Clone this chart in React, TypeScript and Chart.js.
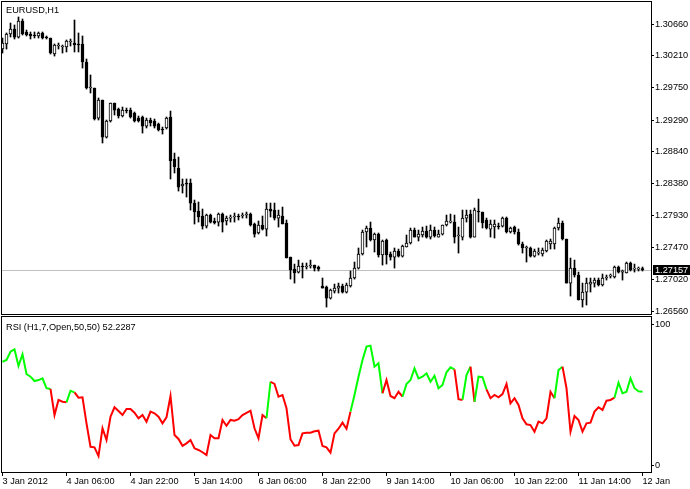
import React, { useEffect, useRef } from 'react';
import { Chart, registerables } from 'chart.js';

Chart.register(...registerables);

const SYMBOL_TITLE = 'EURUSD,H1';
const RSI_NAME = 'RSI (H1,7,Open,50,50)';

const OPEN = [
  1.30303, 1.30375, 1.30517, 1.30589, 1.30474, 1.30703, 1.30546, 1.30517, 1.30503, 1.30489,
  1.30532, 1.30474, 1.30460, 1.30232, 1.30346, 1.30332, 1.30332, 1.30403, 1.30389, 1.30375,
  1.30375, 1.30118, 1.29747, 1.29747, 1.29319, 1.29576, 1.29048, 1.29277, 1.29533, 1.29448,
  1.29348, 1.29433, 1.29433, 1.29391, 1.29319, 1.29334, 1.29205, 1.29291, 1.29277, 1.29234,
  1.29162, 1.29177, 1.29334, 1.28735, 1.28606, 1.28350, 1.28392, 1.28392, 1.28107, 1.27993,
  1.27922, 1.27779, 1.27936, 1.27851, 1.27836, 1.27950, 1.27851, 1.27893, 1.27908, 1.27922,
  1.27922, 1.27936, 1.27950, 1.27808, 1.27680, 1.27794, 1.27736, 1.28022, 1.28007, 1.27893,
  1.27922, 1.27822, 1.27337, 1.27166, 1.27123, 1.27209, 1.27195, 1.27209, 1.27223, 1.27195,
  1.26924, 1.26909, 1.26752, 1.26852, 1.26895, 1.26924, 1.26838, 1.26924, 1.27038, 1.27180,
  1.27380, 1.27694, 1.27751, 1.27580, 1.27665, 1.27366, 1.27580, 1.27380, 1.27337, 1.27423,
  1.27351, 1.27480, 1.27537, 1.27722, 1.27622, 1.27651, 1.27708, 1.27622, 1.27722, 1.27622,
  1.27665, 1.27794, 1.27836, 1.27836, 1.27637, 1.27622, 1.27893, 1.27950, 1.27622, 1.27993,
  1.27979, 1.27865, 1.27736, 1.27765, 1.27779, 1.27779, 1.27893, 1.27694, 1.27765, 1.27694,
  1.27523, 1.27466, 1.27466, 1.27351, 1.27394, 1.27380, 1.27423, 1.27523, 1.27523, 1.27751,
  1.27822, 1.27594, 1.26966, 1.27180, 1.27081, 1.26724, 1.26838, 1.26952, 1.26966, 1.27009,
  1.26938, 1.27038, 1.27066, 1.27052, 1.27195, 1.27123, 1.27109, 1.27252, 1.27166, 1.27166,
  1.27166,
];

const HIGH = [
  1.30460, 1.30532, 1.30674, 1.30646, 1.30760, 1.30731, 1.30574, 1.30546, 1.30546, 1.30546,
  1.30546, 1.30489, 1.30460, 1.30375, 1.30389, 1.30360, 1.30432, 1.30446, 1.30717, 1.30532,
  1.30489, 1.30161, 1.29933, 1.29747, 1.29605, 1.29576, 1.29291, 1.29533, 1.29533, 1.29462,
  1.29476, 1.29462, 1.29462, 1.29405, 1.29348, 1.29348, 1.29319, 1.29319, 1.29305, 1.29248,
  1.29191, 1.29334, 1.29419, 1.28820, 1.28763, 1.28450, 1.28450, 1.28450, 1.28150, 1.28122,
  1.28022, 1.27950, 1.27950, 1.27893, 1.27965, 1.27965, 1.27922, 1.27936, 1.27965, 1.27950,
  1.27965, 1.27979, 1.27965, 1.27822, 1.27851, 1.27922, 1.28107, 1.28107, 1.28107, 1.28007,
  1.28050, 1.27865, 1.27337, 1.27237, 1.27294, 1.27252, 1.27252, 1.27294, 1.27223, 1.27209,
  1.27038, 1.26924, 1.26881, 1.26952, 1.26966, 1.26952, 1.26966, 1.27138, 1.27266, 1.27466,
  1.27722, 1.27779, 1.27836, 1.27680, 1.27680, 1.27580, 1.27594, 1.27409, 1.27466, 1.27451,
  1.27508, 1.27651, 1.27751, 1.27751, 1.27722, 1.27765, 1.27779, 1.27794, 1.27765, 1.27722,
  1.27794, 1.27936, 1.27950, 1.27936, 1.27765, 1.28007, 1.28007, 1.28007, 1.28036, 1.28164,
  1.27979, 1.27893, 1.27865, 1.27865, 1.27822, 1.27908, 1.27908, 1.27765, 1.27779, 1.27736,
  1.27551, 1.27494, 1.27480, 1.27451, 1.27466, 1.27466, 1.27580, 1.27594, 1.27765, 1.27893,
  1.27851, 1.27594, 1.27323, 1.27294, 1.27123, 1.26966, 1.27038, 1.27038, 1.27038, 1.27038,
  1.27095, 1.27081, 1.27095, 1.27209, 1.27209, 1.27152, 1.27266, 1.27266, 1.27237, 1.27195,
  1.27195,
];

const LOW = [
  1.30246, 1.30303, 1.30474, 1.30446, 1.30460, 1.30503, 1.30489, 1.30446, 1.30460, 1.30460,
  1.30446, 1.30446, 1.30232, 1.30203, 1.30303, 1.30246, 1.30261, 1.30346, 1.30261, 1.30261,
  1.30032, 1.29733, 1.29676, 1.29291, 1.29291, 1.28963, 1.29034, 1.29262, 1.29362, 1.29319,
  1.29334, 1.29391, 1.29319, 1.29262, 1.29262, 1.29105, 1.29177, 1.29205, 1.29177, 1.29134,
  1.29091, 1.29162, 1.28450, 1.28535, 1.28278, 1.28250, 1.28193, 1.28007, 1.27808, 1.27836,
  1.27736, 1.27751, 1.27822, 1.27808, 1.27779, 1.27694, 1.27794, 1.27836, 1.27836, 1.27865,
  1.27893, 1.27893, 1.27779, 1.27622, 1.27665, 1.27722, 1.27637, 1.27908, 1.27865, 1.27765,
  1.27808, 1.27323, 1.27023, 1.26966, 1.27109, 1.27038, 1.27166, 1.27180, 1.27138, 1.27138,
  1.26895, 1.26624, 1.26738, 1.26824, 1.26824, 1.26824, 1.26824, 1.26909, 1.27023, 1.27166,
  1.27366, 1.27480, 1.27566, 1.27409, 1.27337, 1.27223, 1.27237, 1.27294, 1.27180, 1.27337,
  1.27337, 1.27480, 1.27523, 1.27622, 1.27566, 1.27622, 1.27608, 1.27594, 1.27622, 1.27622,
  1.27651, 1.27779, 1.27822, 1.27537, 1.27394, 1.27580, 1.27836, 1.27608, 1.27622, 1.27836,
  1.27751, 1.27736, 1.27622, 1.27608, 1.27736, 1.27765, 1.27680, 1.27680, 1.27665, 1.27508,
  1.27394, 1.27266, 1.27337, 1.27337, 1.27366, 1.27351, 1.27409, 1.27451, 1.27451, 1.27722,
  1.27580, 1.26966, 1.26781, 1.27052, 1.26724, 1.26624, 1.26653, 1.26838, 1.26909, 1.26924,
  1.26924, 1.27009, 1.27038, 1.27038, 1.27109, 1.27009, 1.27109, 1.27138, 1.27123, 1.27138,
  1.27138,
];

const CLOSE = [
  1.30389, 1.30517, 1.30589, 1.30474, 1.30703, 1.30517, 1.30503, 1.30489, 1.30489, 1.30532,
  1.30460, 1.30460, 1.30246, 1.30360, 1.30346, 1.30332, 1.30417, 1.30403, 1.30360, 1.30360,
  1.30118, 1.29747, 1.29747, 1.29305, 1.29576, 1.29048, 1.29277, 1.29533, 1.29433, 1.29348,
  1.29433, 1.29419, 1.29334, 1.29277, 1.29277, 1.29205, 1.29291, 1.29248, 1.29205, 1.29148,
  1.29148, 1.29319, 1.28706, 1.28621, 1.28335, 1.28378, 1.28378, 1.28107, 1.27979, 1.27908,
  1.27779, 1.27936, 1.27836, 1.27822, 1.27950, 1.27836, 1.27893, 1.27893, 1.27922, 1.27908,
  1.27922, 1.27936, 1.27794, 1.27665, 1.27794, 1.27736, 1.28022, 1.27993, 1.27893, 1.27936,
  1.27808, 1.27323, 1.27152, 1.27109, 1.27209, 1.27195, 1.27195, 1.27209, 1.27180, 1.27166,
  1.26895, 1.26752, 1.26867, 1.26895, 1.26924, 1.26838, 1.26938, 1.27038, 1.27180, 1.27380,
  1.27694, 1.27751, 1.27580, 1.27665, 1.27366, 1.27566, 1.27366, 1.27337, 1.27423, 1.27351,
  1.27494, 1.27537, 1.27722, 1.27622, 1.27665, 1.27708, 1.27622, 1.27722, 1.27637, 1.27665,
  1.27794, 1.27851, 1.27836, 1.27622, 1.27637, 1.27893, 1.27936, 1.27622, 1.28007, 1.27979,
  1.27822, 1.27751, 1.27808, 1.27808, 1.27765, 1.27893, 1.27694, 1.27751, 1.27694, 1.27523,
  1.27466, 1.27466, 1.27351, 1.27423, 1.27394, 1.27437, 1.27566, 1.27566, 1.27751, 1.27822,
  1.27594, 1.26966, 1.27180, 1.27081, 1.26724, 1.26838, 1.26966, 1.26981, 1.27009, 1.26938,
  1.27038, 1.27052, 1.27066, 1.27195, 1.27123, 1.27138, 1.27252, 1.27152, 1.27166, 1.27166,
  1.27157,
];

const RSI = [
  73.6, 74.8, 80.7, 82.4, 70.6, 78.9, 64.9, 63.0, 59.9, 60.6,
  61.8, 54.8, 54.3, 35.8, 46.5, 45.2, 44.8, 53.0, 51.9, 48.1,
  48.4, 29.9, 13.3, 12.9, 6.7, 26.4, 18.1, 34.6, 41.3, 38.7,
  35.8, 40.1, 40.1, 37.4, 33.5, 35.8, 31.1, 38.2, 37.0, 34.6,
  29.9, 34.2, 49.3, 21.6, 18.8, 14.0, 15.7, 18.1, 12.2, 11.0,
  9.4, 7.4, 21.6, 19.3, 19.3, 32.3, 28.2, 32.3, 31.8, 32.8,
  35.8, 37.4, 38.9, 26.4, 19.3, 35.8, 33.5, 59.4, 57.8, 48.8,
  50.0, 40.6, 18.6, 14.0, 14.5, 22.8, 23.3, 23.3, 24.3, 24.7,
  13.8, 12.9, 9.1, 22.8, 26.1, 30.4, 26.1, 38.2, 50.0, 63.0,
  74.8, 84.3, 85.0, 70.1, 72.5, 51.2, 60.6, 49.3, 47.7, 52.3,
  48.8, 57.8, 60.6, 68.9, 61.8, 63.0, 65.4, 59.4, 63.7, 54.8,
  57.1, 66.1, 69.6, 68.2, 47.0, 46.5, 64.2, 70.1, 45.2, 63.0,
  62.6, 54.0, 47.7, 50.0, 48.4, 50.7, 57.8, 44.1, 47.7, 42.9,
  33.5, 29.2, 28.7, 24.0, 31.1, 29.9, 33.5, 52.3, 47.7, 67.7,
  70.1, 54.8, 24.0, 35.1, 32.3, 24.0, 29.9, 30.4, 38.2, 41.3,
  39.4, 46.0, 46.5, 48.1, 58.7, 51.2, 52.3, 61.8, 54.8, 52.6,
  52.2287,
];

// Index ranges [from, to] of the RSI line drawn in green (the rest is red)
const GREEN_SEGMENTS = [
  [0, 12], [16, 18], [66, 67], [87, 95], [100, 113], [115, 117], [118, 121], [138, 140], [153, 160],
];

const PRICE_TICKS = [1.3066, 1.3021, 1.2975, 1.2929, 1.2884, 1.2838, 1.2793, 1.2747, 1.2702, 1.2656];
const RSI_TICKS = [100, 0];
const TIME_TICK_INDEX = [0, 16, 32, 48, 64, 80, 96, 112, 128, 144, 160];
const TIME_LABELS = [
  '3 Jan 2012', '4 Jan 06:00', '4 Jan 22:00', '5 Jan 14:00', '6 Jan 06:00', '8 Jan 22:00',
  '9 Jan 14:00', '10 Jan 06:00', '10 Jan 22:00', '11 Jan 14:00', '12 Jan',
];

const FAMILY = "'Liberation Sans', Arial, sans-serif";
const FSIZE = 9.2;
const X_MIN = -0.375;
const X_MAX = 162.125;

const framePlugin = {
  id: 'frame',
  afterDraw(chart: any) {
    const { ctx, chartArea } = chart;
    const { left, top, right, bottom } = chartArea;
    ctx.save();
    ctx.strokeStyle = '#000';
    ctx.lineWidth = 1;
    ctx.strokeRect(left + 0.5, top + 0.5, right - left, bottom - top);
    ctx.restore();
  },
};

function titlePlugin(text: string, x: number, y: number) {
  return {
    id: 'title_' + text.length,
    afterDraw(chart: any) {
      const ctx = chart.ctx;
      ctx.save();
      ctx.font = `${FSIZE}px ${FAMILY}`;
      ctx.fillStyle = '#000';
      ctx.textBaseline = 'middle';
      ctx.textAlign = 'left';
      ctx.fillText(text, x, y);
      ctx.restore();
    },
  };
}

const bidPlugin = {
  id: 'bid',
  beforeDatasetsDraw(chart: any) {
    const { ctx, chartArea, scales } = chart;
    const last = CLOSE[CLOSE.length - 1];
    const y = Math.round(scales.y.getPixelForValue(last));
    ctx.save();
    ctx.strokeStyle = '#c0c0c0';
    ctx.lineWidth = 1;
    ctx.beginPath();
    ctx.moveTo(chartArea.left, y + 0.5);
    ctx.lineTo(chartArea.right, y + 0.5);
    ctx.stroke();
    ctx.restore();
  },
  afterDraw(chart: any) {
    const { ctx, chartArea, scales } = chart;
    const last = CLOSE[CLOSE.length - 1];
    const y = Math.round(scales.y.getPixelForValue(last));
    ctx.save();
    ctx.fillStyle = '#000';
    ctx.fillRect(chartArea.right + 2, y - 5, chart.width - chartArea.right - 2, 10);
    ctx.font = `${FSIZE}px ${FAMILY}`;
    ctx.fillStyle = '#fff';
    ctx.textBaseline = 'middle';
    ctx.textAlign = 'left';
    ctx.fillText(last.toFixed(5), chartArea.right + 4, y + 0.5);
    ctx.restore();
  },
};

function isGreen(i: number) {
  return GREEN_SEGMENTS.some(([a, b]) => i >= a && i < b);
}

export default function App() {
  const mainRef = useRef<HTMLCanvasElement>(null);
  const rsiRef = useRef<HTMLCanvasElement>(null);

  useEffect(() => {
    document.body.style.margin = '0';
    const font = { family: FAMILY, size: FSIZE };

    const bodies = CLOSE.map((c, i) => ({ x: i, y: [OPEN[i], c] }));
    const wicks = CLOSE.map((_, i) => ({ x: i, y: [LOW[i], HIGH[i]] }));
    const bodyColors = CLOSE.map((c, i) => (c >= OPEN[i] ? '#ffffff' : '#000000'));

    const main = new Chart(mainRef.current as HTMLCanvasElement, {
      type: 'bar',
      data: {
        datasets: [
          {
            data: bodies as any,
            backgroundColor: bodyColors,
            borderColor: '#000',
            borderWidth: 1,
            borderSkipped: false,
            barThickness: 3,
            grouped: false,
            minBarLength: 1,
            order: 0,
          } as any,
          {
            data: wicks as any,
            backgroundColor: '#000',
            borderWidth: 0,
            barThickness: 1,
            grouped: false,
            minBarLength: 1,
            order: 1,
          } as any,
        ],
      },
      options: {
        animation: false,
        responsive: false,
        devicePixelRatio: 1,
        events: [],
        layout: { padding: { left: 1, top: 1, right: 0, bottom: 2 } },
        plugins: { legend: { display: false }, tooltip: { enabled: false } },
        scales: {
          x: {
            type: 'linear',
            min: X_MIN,
            max: X_MAX,
            offset: false,
            display: false,
            afterFit: (s: any) => { s.paddingLeft = 0; s.paddingRight = 0; },
          },
          y: {
            type: 'linear',
            position: 'right',
            min: 1.26525,
            max: 1.30988,
            bounds: 'data',
            afterFit: (s: any) => { s.width = 39; s.paddingTop = 0; s.paddingBottom = 0; },
            afterBuildTicks: (s: any) => { s.ticks = PRICE_TICKS.map((v) => ({ value: v })); },
            ticks: {
              callback: (v: any) => Number(v).toFixed(5),
              font,
              color: '#000',
              padding: 1,
              autoSkip: false,
            },
            grid: { drawOnChartArea: false, tickLength: 3, color: '#000' },
            border: { display: false },
          },
        },
      } as any,
      plugins: [bidPlugin, framePlugin, titlePlugin(SYMBOL_TITLE, 6, 10)],
    });

    const rsiData = RSI.map((v, i) => ({ x: i, y: v }));
    const rsi = new Chart(rsiRef.current as HTMLCanvasElement, {
      type: 'line',
      data: {
        datasets: [
          {
            data: rsiData as any,
            borderWidth: 2,
            borderColor: '#ff0000',
            pointRadius: 0,
            tension: 0,
            fill: false,
            segment: {
              borderColor: (ctx: any) => (isGreen(ctx.p0DataIndex) ? '#00ff00' : '#ff0000'),
            },
          } as any,
        ],
      },
      options: {
        animation: false,
        responsive: false,
        devicePixelRatio: 1,
        events: [],
        layout: { padding: { left: 1, top: 0, right: 0, bottom: 0 } },
        plugins: { legend: { display: false }, tooltip: { enabled: false } },
        scales: {
          x: {
            type: 'linear',
            min: X_MIN,
            max: X_MAX,
            offset: false,
            afterFit: (s: any) => { s.height = 17; s.paddingLeft = 0; s.paddingRight = 0; },
            afterBuildTicks: (s: any) => { s.ticks = TIME_TICK_INDEX.map((v) => ({ value: v })); },
            ticks: {
              callback: (_v: any, i: number) => TIME_LABELS[i],
              align: 'start',
              maxRotation: 0,
              minRotation: 0,
              autoSkip: false,
              padding: 0,
              font,
              color: '#000',
            },
            grid: { drawOnChartArea: false, tickLength: 4, color: '#000', offset: false },
            border: { display: false },
          },
          y: {
            type: 'linear',
            position: 'right',
            min: -4.61,
            max: 106.03,
            bounds: 'data',
            afterFit: (s: any) => { s.width = 39; s.paddingTop = 0; s.paddingBottom = 0; },
            afterBuildTicks: (s: any) => { s.ticks = RSI_TICKS.map((v) => ({ value: v })); },
            ticks: { callback: (v: any) => String(v), font, color: '#000', padding: 1, autoSkip: false },
            grid: { drawOnChartArea: false, tickLength: 3, color: '#000' },
            border: { display: false },
          },
        },
      } as any,
      plugins: [
        framePlugin,
        titlePlugin(`${RSI_NAME} ${RSI[RSI.length - 1].toFixed(4)}`, 6, 11),
      ],
    });

    return () => {
      main.destroy();
      rsi.destroy();
    };
  }, []);

  return (
    <div style={{ position: 'relative', width: 690, height: 489, background: '#fff', overflow: 'hidden' }}>
      <canvas ref={mainRef} width={690} height={316} style={{ position: 'absolute', left: 0, top: 0 }} />
      <canvas ref={rsiRef} width={690} height={173} style={{ position: 'absolute', left: 0, top: 316 }} />
    </div>
  );
}
